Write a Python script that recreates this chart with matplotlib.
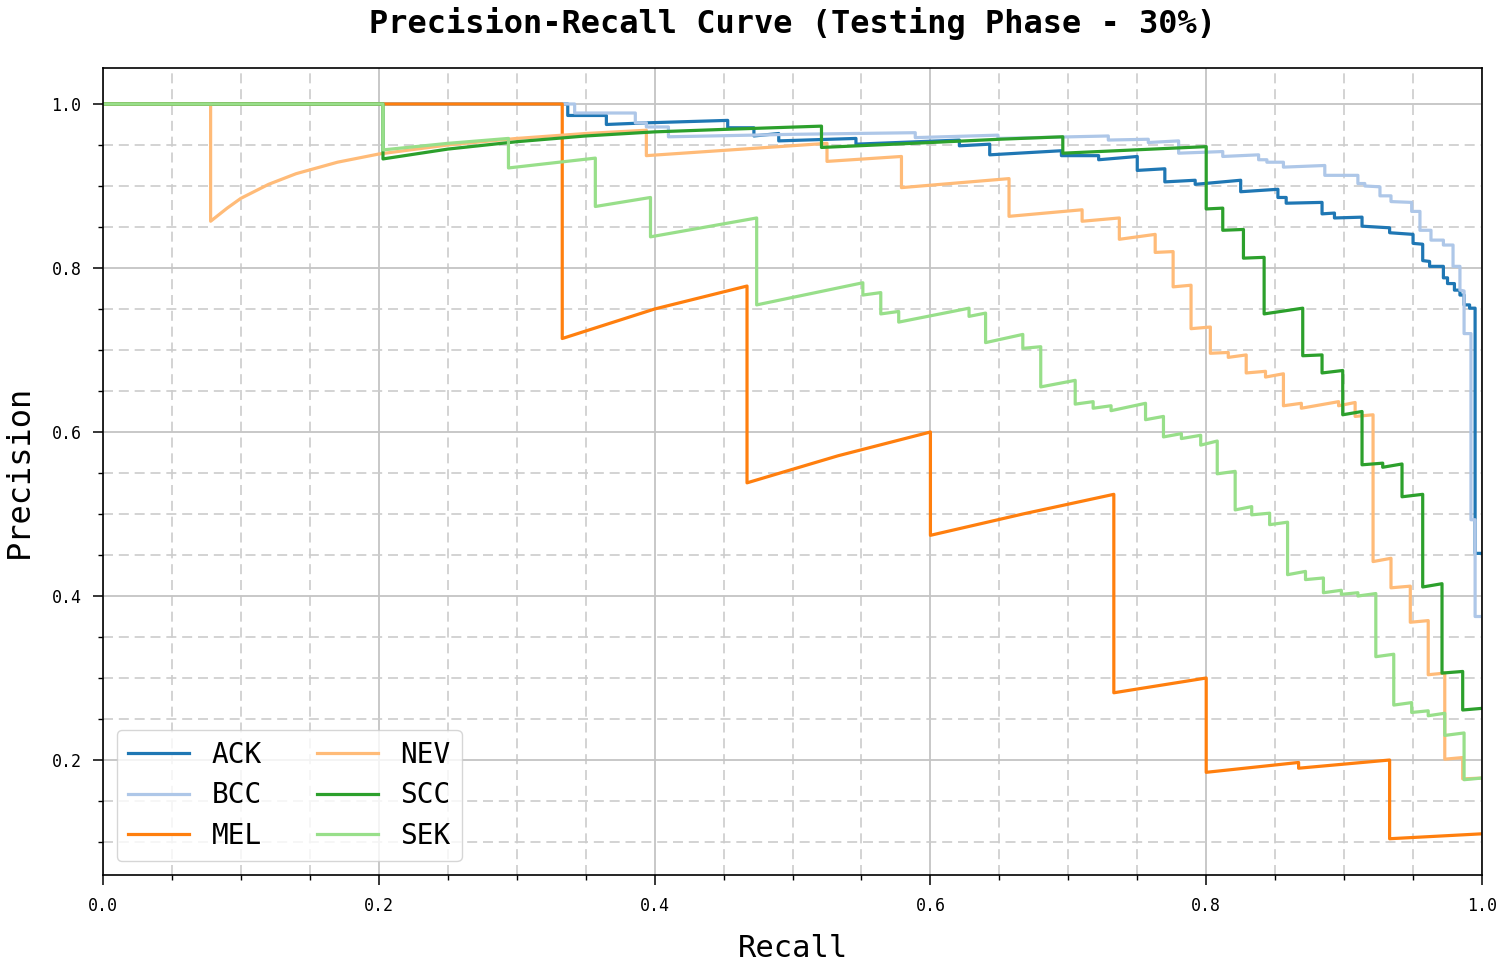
import numpy as np
import matplotlib
matplotlib.use("Agg")
import matplotlib.pyplot as plt
from matplotlib.ticker import MultipleLocator

plt.rcParams['font.family'] = ['DejaVu Sans Mono', 'DejaVu Sans']

# ------------------ Data ------------------
class_names = ["ACK", "BCC", "MEL", "NEV", "SCC", "SEK"]
class_colors = ["#1f77b4", "#aec7e8", "#ff7f0e", "#ffbb78", "#2ca02c", "#98df8a"]

ack_recall = [0.0, 0.337, 0.337, 0.365, 0.365, 0.394, 0.453, 0.453, 0.472, 0.472,
              0.490, 0.490, 0.546, 0.546, 0.621, 0.621, 0.643, 0.643, 0.695, 0.695,
              0.722, 0.722, 0.750, 0.750, 0.770, 0.770, 0.792, 0.792, 0.825, 0.825,
              0.852, 0.852, 0.858, 0.858, 0.884, 0.884, 0.893, 0.893, 0.913, 0.913,
              0.933, 0.933, 0.950, 0.950, 0.957, 0.957, 0.962, 0.962, 0.972, 0.972,
              0.975, 0.975, 0.980, 0.980, 0.984, 0.984, 0.987, 0.987, 0.991, 0.991,
              0.995, 0.995, 1.0]
ack_precision = [1.0, 1.0, 0.986, 0.986, 0.975, 0.977, 0.980, 0.971, 0.971, 0.961,
                 0.964, 0.955, 0.958, 0.951, 0.956, 0.949, 0.951, 0.938, 0.943, 0.937,
                 0.937, 0.932, 0.936, 0.919, 0.921, 0.905, 0.907, 0.902, 0.907, 0.893,
                 0.896, 0.886, 0.886, 0.879, 0.880, 0.866, 0.867, 0.861, 0.862, 0.851,
                 0.849, 0.843, 0.841, 0.830, 0.829, 0.809, 0.808, 0.802, 0.802, 0.788,
                 0.788, 0.781, 0.781, 0.773, 0.773, 0.767, 0.767, 0.755, 0.755, 0.751,
                 0.751, 0.452, 0.452]

bcc_recall = [0.0, 0.342, 0.342, 0.386, 0.386, 0.394, 0.394, 0.410, 0.410, 0.500,
              0.589, 0.589, 0.649, 0.649, 0.729, 0.729, 0.758, 0.758, 0.780, 0.780,
              0.812, 0.812, 0.838, 0.838, 0.844, 0.844, 0.856, 0.856, 0.886, 0.886,
              0.910, 0.910, 0.915, 0.915, 0.926, 0.926, 0.934, 0.934, 0.949, 0.949,
              0.955, 0.955, 0.963, 0.963, 0.972, 0.972, 0.979, 0.979, 0.984, 0.984,
              0.987, 0.987, 0.992, 0.992, 0.995, 0.995, 1.0]
bcc_precision = [1.0, 1.0, 0.989, 0.989, 0.977, 0.977, 0.972, 0.972, 0.960, 0.963,
                 0.965, 0.959, 0.962, 0.958, 0.961, 0.956, 0.957, 0.953, 0.955, 0.940,
                 0.942, 0.936, 0.938, 0.932, 0.932, 0.929, 0.929, 0.923, 0.925, 0.913,
                 0.913, 0.903, 0.903, 0.900, 0.899, 0.888, 0.888, 0.881, 0.880, 0.869,
                 0.869, 0.846, 0.846, 0.834, 0.834, 0.828, 0.828, 0.802, 0.802, 0.773,
                 0.772, 0.720, 0.720, 0.493, 0.493, 0.375, 0.375]

mel_recall = [0.0, 0.333, 0.333, 0.400, 0.467, 0.467, 0.533, 0.600, 0.600, 0.667,
              0.733, 0.733, 0.800, 0.800, 0.867, 0.867, 0.933, 0.933, 1.0]
mel_precision = [1.0, 1.0, 0.714, 0.750, 0.778, 0.538, 0.571, 0.600, 0.474, 0.500,
                 0.524, 0.282, 0.300, 0.185, 0.197, 0.190, 0.200, 0.104, 0.110]

nev_recall = [0.0, 0.078, 0.078, 0.090, 0.100, 0.120, 0.140, 0.170, 0.200, 0.250,
              0.300, 0.350, 0.394, 0.394, 0.525, 0.525, 0.579, 0.579, 0.657, 0.657,
              0.710, 0.710, 0.737, 0.737, 0.763, 0.763, 0.776, 0.776, 0.789, 0.789,
              0.803, 0.803, 0.816, 0.816, 0.829, 0.829, 0.843, 0.843, 0.856, 0.856,
              0.869, 0.869, 0.896, 0.896, 0.908, 0.908, 0.921, 0.921, 0.934, 0.934,
              0.948, 0.948, 0.961, 0.961, 0.973, 0.973, 0.986, 0.986, 1.0]
nev_precision = [1.0, 1.0, 0.857, 0.873, 0.885, 0.902, 0.915, 0.929, 0.939, 0.950,
                 0.958, 0.964, 0.968, 0.937, 0.952, 0.930, 0.936, 0.898, 0.909, 0.863,
                 0.871, 0.857, 0.861, 0.835, 0.841, 0.819, 0.820, 0.777, 0.779, 0.726,
                 0.728, 0.696, 0.697, 0.691, 0.694, 0.672, 0.674, 0.667, 0.671, 0.632,
                 0.635, 0.629, 0.637, 0.632, 0.636, 0.619, 0.621, 0.442, 0.446, 0.410,
                 0.412, 0.368, 0.370, 0.304, 0.306, 0.201, 0.203, 0.177, 0.178]

scc_recall = [0.0, 0.203, 0.203, 0.250, 0.300, 0.350, 0.400, 0.450, 0.521, 0.521,
              0.600, 0.650, 0.696, 0.696, 0.800, 0.800, 0.812, 0.812, 0.827, 0.827,
              0.842, 0.842, 0.870, 0.870, 0.884, 0.884, 0.899, 0.899, 0.913, 0.913,
              0.928, 0.928, 0.942, 0.942, 0.957, 0.957, 0.971, 0.971, 0.986, 0.986, 1.0]
scc_precision = [1.0, 1.0, 0.933, 0.945, 0.954, 0.961, 0.966, 0.969, 0.973, 0.947,
                 0.953, 0.957, 0.960, 0.940, 0.948, 0.872, 0.873, 0.846, 0.847, 0.812,
                 0.813, 0.744, 0.751, 0.693, 0.694, 0.672, 0.675, 0.621, 0.625, 0.560,
                 0.562, 0.557, 0.561, 0.521, 0.524, 0.411, 0.415, 0.306, 0.308, 0.261, 0.263]

sek_recall = [0.0, 0.203, 0.203, 0.250, 0.294, 0.294, 0.357, 0.357, 0.397, 0.397,
              0.474, 0.474, 0.551, 0.551, 0.564, 0.564, 0.577, 0.577, 0.628, 0.628,
              0.640, 0.640, 0.667, 0.667, 0.680, 0.680, 0.705, 0.705, 0.718, 0.718,
              0.731, 0.731, 0.756, 0.756, 0.769, 0.769, 0.782, 0.782, 0.796, 0.796,
              0.808, 0.808, 0.821, 0.821, 0.833, 0.833, 0.846, 0.846, 0.859, 0.859,
              0.872, 0.872, 0.885, 0.885, 0.898, 0.898, 0.910, 0.910, 0.923, 0.923,
              0.936, 0.936, 0.949, 0.949, 0.961, 0.961, 0.973, 0.973, 0.987, 0.987, 1.0]
sek_precision = [1.0, 1.0, 0.944, 0.952, 0.958, 0.922, 0.934, 0.875, 0.886, 0.838,
                 0.861, 0.755, 0.782, 0.767, 0.770, 0.744, 0.747, 0.734, 0.751, 0.741,
                 0.745, 0.709, 0.719, 0.702, 0.704, 0.655, 0.663, 0.634, 0.637, 0.629,
                 0.632, 0.626, 0.635, 0.615, 0.619, 0.594, 0.598, 0.592, 0.596, 0.584,
                 0.589, 0.549, 0.552, 0.505, 0.509, 0.499, 0.501, 0.487, 0.490, 0.426,
                 0.430, 0.420, 0.422, 0.404, 0.407, 0.402, 0.404, 0.400, 0.403, 0.326,
                 0.329, 0.267, 0.270, 0.258, 0.260, 0.254, 0.257, 0.230, 0.233, 0.176, 0.178]

curves = [
    (ack_recall, ack_precision),
    (bcc_recall, bcc_precision),
    (mel_recall, mel_precision),
    (nev_recall, nev_precision),
    (scc_recall, scc_precision),
    (sek_recall, sek_precision),
]

# ------------------ Figure ------------------
fig = plt.figure(figsize=(15, 9.63), dpi=100)
ax = fig.add_axes([0.0687, 0.0914, 0.9193, 0.838])

for name, color, (rec, prec) in zip(class_names, class_colors, curves):
    ax.plot(rec, prec, color=color, lw=2.3, label=name)

ax.set_xlim(0.0, 1.0)
ax.set_ylim(0.0598, 1.0439)

ax.xaxis.set_major_locator(MultipleLocator(0.2))
ax.yaxis.set_major_locator(MultipleLocator(0.2))
ax.xaxis.set_minor_locator(MultipleLocator(0.05))
ax.yaxis.set_minor_locator(MultipleLocator(0.05))

ax.grid(which='major', color='#c4c4c4', lw=1.3, ls='-')
ax.grid(which='minor', color='#cccccc', lw=1.2, ls=(0, (6, 3.5)))
ax.set_axisbelow(True)

ax.tick_params(which='major', length=7, width=1.1, labelsize=12, pad=8.5)
ax.tick_params(which='minor', length=3.5, width=1.0)
for sp in ax.spines.values():
    sp.set_linewidth(1.2)

ax.set_title("Precision-Recall Curve (Testing Phase - 30%)", fontsize=23,
             fontweight='bold', pad=25)
ax.set_xlabel("Recall", fontsize=22, labelpad=14)
ax.set_ylabel("Precision", fontsize=23, labelpad=12)

ax.legend(loc='lower left', ncol=2, fontsize=20, handlelength=2.2,
          handletextpad=0.8, columnspacing=2.0, labelspacing=0.45,
          borderaxespad=0.5)

fig.savefig("out.png", dpi=100)
